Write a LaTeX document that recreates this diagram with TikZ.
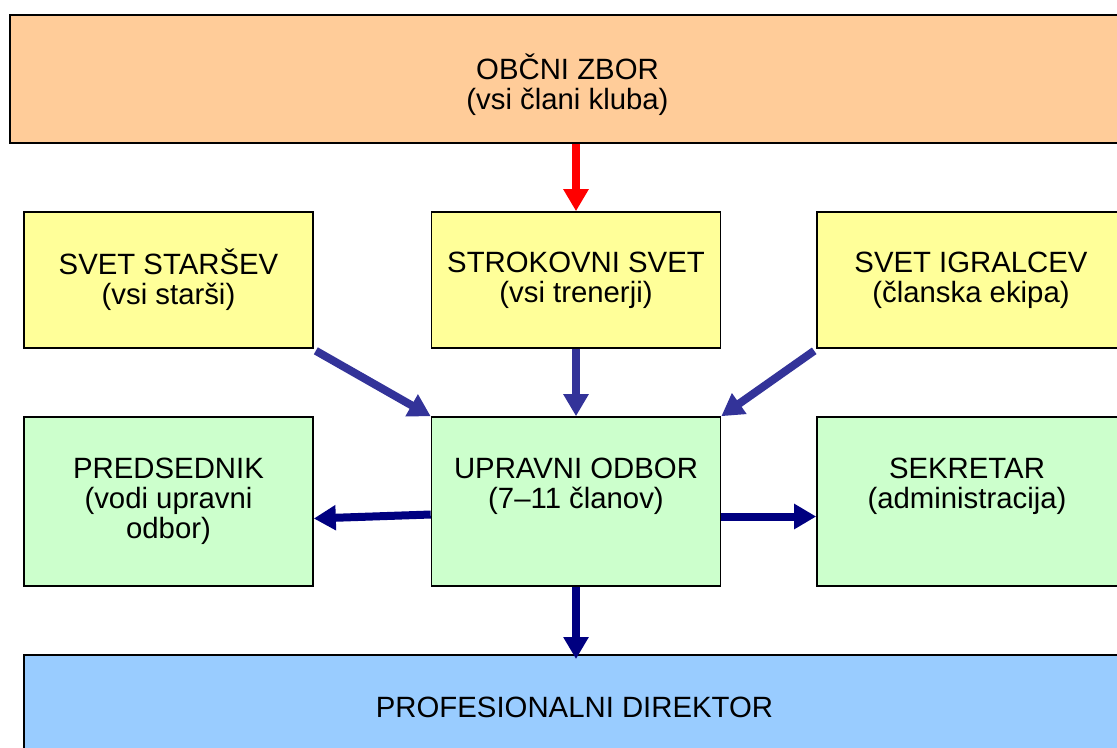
\documentclass[tikz,border=0pt]{standalone}
\usepackage{fontspec}
\setmainfont{Liberation Sans}
\usetikzlibrary{arrows.meta,calc}
\definecolor{orangefill}{HTML}{FFCC99}
\definecolor{yellowfill}{HTML}{FFFF99}
\definecolor{greenfill}{HTML}{CCFFCC}
\definecolor{bluefill}{HTML}{99CCFF}
\definecolor{arrowblue}{HTML}{333399}
\definecolor{arrownavy}{HTML}{000080}
\definecolor{arrowred}{HTML}{FF0000}
\begin{document}
\begin{tikzpicture}[x=0.75pt,y=-0.75pt,
  txt/.style={font=\fontsize{22}{22.5}\selectfont,align=center,inner sep=0pt},
  box/.style={txt,draw=black,line width=1.2pt,rectangle},
  narrowbox/.style={box,minimum width=216.75pt},
  widebox/.style={box,minimum width=231pt},
  yellowbox/.style={fill=yellowfill,minimum height=102pt},
  greenbox/.style={fill=greenfill,minimum height=126.75pt},
  fat/.style={line width=6pt,-{Triangle[width=18pt,length=16.5pt]}},
  upperarrow/.style={fat,draw=arrowblue},
  lowerarrow/.style={fat,draw=arrownavy},
  redarrow/.style={fat,draw=arrowred}]
\useasboundingbox (0,0) rectangle (1117,747);
\clip (0,0) rectangle (1117,747);
% boxes
\node[box,fill=orangefill,line width=1.6pt,minimum width=836.25pt,minimum height=96pt] (zbor) at (567.5,79) {};
\node[txt] (zbortxt) at (567.5,85) {OBČNI ZBOR\\(vsi člani kluba)};
\node[narrowbox,yellowbox] (starsi) at (168.5,280) {SVET STARŠEV\\(vsi starši)};
\node[narrowbox,yellowbox] (strok) at (576,280) {STROKOVNI SVET\\(vsi trenerji)};
\node[widebox,yellowbox] (igr) at (971,280) {SVET IGRALCEV\\(članska ekipa)};
\node[narrowbox,greenbox] (pred) at (168.5,501.5) {};
\node[narrowbox,greenbox] (upr) at (576,501.5) {};
\node[widebox,greenbox] (sek) at (971,501.5) {};
\node[txt,anchor=north] (predtxt) at (168.5,458) {PREDSEDNIK\\(vodi upravni\\odbor)};
\node[txt,anchor=north] (uprtxt) at (576,458) {UPRAVNI ODBOR\\(7–11 članov)};
\node[txt,anchor=north] (sektxt) at (967,458) {SEKRETAR\\(administracija)};
\node[box,fill=bluefill,line width=1.4pt,minimum width=825.75pt,minimum height=78.75pt] (dir) at (574.5,707.5) {PROFESIONALNI DIREKTOR};
% arrows
\draw[redarrow] (zbor.south -| strok.north) -- (strok.north);
\draw[upperarrow] ($(starsi.south east)+(2,2)$) -- (upr.north west);
\draw[upperarrow] (strok.south) -- (upr.north);
\draw[upperarrow] ($(igr.south west)+(-2,2)$) -- (upr.north east);
\draw[lowerarrow] ($(upr.west)+(0,13)$) -- ($(pred.east)+(0,17)$);
\draw[lowerarrow] ($(upr.east)+(0,15)$) -- ($(sek.west)+(0,15)$);
\draw[lowerarrow] (upr.south) -- ($(upr.south |- dir.north)+(0,5)$);
\end{tikzpicture}
\end{document}
